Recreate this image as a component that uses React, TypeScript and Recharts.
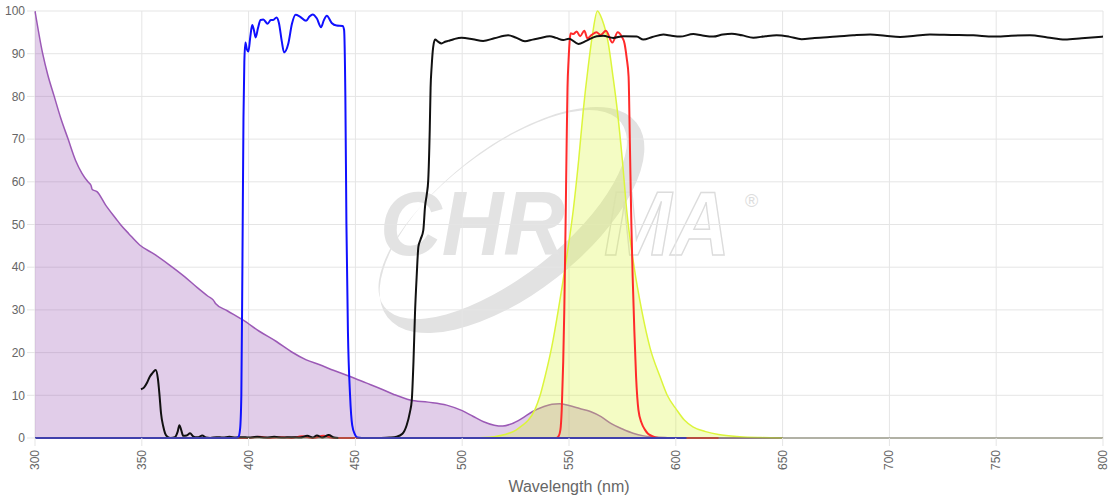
import { Area, CartesianGrid, ComposedChart, Line, XAxis, YAxis } from 'recharts';

// [wavelength nm, transmission %]
const absorption: [number, number][] = [
  [300, 100], [303.6, 90], [306, 85], [309, 80], [312, 75], [315.5, 70], [319, 65], [322, 62],
  [324.8, 60], [326.2, 59.2], [326.8, 58.2], [329, 57.7], [333, 54.6], [338, 51.3], [340, 50],
  [344, 47.8], [349, 45.2], [356, 43], [363, 40.5], [370, 37.8], [376, 35.2], [381, 33.2],
  [383.5, 32.3], [384.5, 31.5], [390, 29.8], [397.5, 27.6], [405, 25], [413, 22.6], [420, 20.2],
  [427, 18.3], [433, 17.2], [440, 15.8], [447.5, 14.4], [455, 12.9], [461.5, 11.6], [468, 10.2],
  [475.6, 8.9], [484, 8.4], [492.7, 7.7], [500, 6.4], [505, 5.1], [510, 3.8], [515, 3.0],
  [519, 2.8], [523, 3.3], [528, 4.6], [533, 6.2], [538, 7.3], [542, 7.9], [545.5, 8.0],
  [550, 7.6], [555, 6.9], [560, 6.2], [565, 5.0], [570, 3.3], [575, 2.1], [580, 1.1],
  [585, 0.5], [590, 0.25], [595, 0.1], [600, 0], [650, 0],
];

const emission: [number, number][] = [
  [500, 0], [510, 0.1], [515, 0.3], [520, 0.8], [525, 1.8], [528, 2.9], [531, 4.2], [534, 6.6],
  [536.5, 10], [538.8, 14.4], [542, 21.5], [545, 30], [548.5, 41], [552, 53.4], [554.5, 65],
  [556.7, 76.8], [559, 87], [561, 94.5], [563.3, 100], [565.5, 98], [568.4, 92.4], [570.5, 85],
  [572.6, 76.8], [575, 65], [577, 53.4], [580.5, 40], [584, 30], [588, 21], [592.6, 14.4],
  [596, 10], [600.4, 6.6], [604, 4.2], [608, 2.6], [614, 1.5], [620, 0.8], [630, 0.3],
  [640, 0.1], [650, 0],
];

const exciter: [number, number][] = [
  [300, 0], [394, 0], [395.2, 0.2], [396, 2], [396.6, 10], [397.1, 40], [397.6, 75], [398, 88],
  [398.5, 92.6], [399.2, 91], [399.9, 90.5], [400.8, 94], [401.7, 96.7], [402.5, 95.5],
  [403.3, 93.8], [404.4, 96], [405.6, 97.9], [406.9, 98], [408.9, 97], [410.4, 97.9],
  [411.5, 97.9], [413.1, 98.5], [414.2, 97.2], [415.5, 93], [416.6, 90.3], [418.6, 92.4],
  [420.3, 97], [422, 99.1], [424, 98.7], [426.9, 97.7], [428.5, 98.7], [430, 99.2],
  [431.9, 98.3], [433.9, 96.2], [435.2, 97.8], [436.6, 98.9], [438.9, 97.2], [441.2, 96.6],
  [444, 96.5], [444.7, 95.6], [445.3, 80], [445.8, 50], [446.5, 25], [447.5, 10], [448.5, 3],
  [449.8, 0.8], [451, 0.1], [453, 0], [605, 0],
];

const emitter: [number, number][] = [
  [380, 0], [400, 0], [405, 0.3], [410, 0], [415, 0.2], [420, 0], [425, 0.4], [430, 0],
  [435, 0.5], [440, 0], [445, 0], [544, 0], [545, 0.3], [546, 2], [546.6, 6.6], [547.3, 18],
  [547.8, 30], [548.4, 50], [548.9, 69], [549.3, 82], [549.8, 88.5], [550.4, 93.5],
  [550.8, 94.8], [552, 94.6], [553.6, 95.2], [555.2, 94.1], [557.2, 95.4], [558.6, 93.6],
  [560.6, 94.4], [562.9, 95], [564.8, 94.4], [567.3, 95.4], [570.3, 92.6], [572.8, 95],
  [574.7, 94], [576, 92.4], [577, 89], [577.9, 84.6], [578.5, 69], [579.2, 50], [579.8, 37.8],
  [580.6, 25], [581.4, 14.4], [582.5, 6.6], [584, 3.5], [585.6, 1.9], [587, 1.0], [588.7, 0.5],
  [592, 0], [620, 0],
];

const blocker: [number, number][] = [
  [349.6, 11.4], [351, 11.8], [352.5, 13], [353.8, 14.4], [355, 15.2], [356.5, 15.9],
  [357.5, 14], [358.3, 10], [359, 5.8], [360, 2.8], [360.9, 1.1], [362, 0.3], [363.5, 0],
  [365.5, 0.2], [366.8, 1.5], [367.6, 3.0], [368.5, 1.8], [369.4, 0.5], [371, 0.6],
  [372.6, 1.1], [374, 0.4], [375, 0.2], [376.5, 0.2], [378.3, 0.6], [380, 0.1], [382, 0],
  [385, 0.2], [388, 0.1], [391, 0.3], [394, 0.1], [397, 0.2], [400, 0.1], [404, 0.3],
  [408, 0.1], [412, 0.3], [416, 0.1], [420, 0.2], [424, 0.1], [427.5, 0.5], [430, 0.1],
  [432, 0.6], [434.5, 0.1], [437.5, 0.7], [440, 0.1], [442, 0],
];

const dichroic: [number, number][] = [
  [462, 0], [466, 0.1], [469.3, 0.3], [472, 1], [474, 3], [475.5, 6], [476.4, 8.9],
  [477.2, 18], [477.9, 29.2], [478.7, 38], [479.5, 44.8], [480.5, 46.5], [481.8, 48.7],
  [482.6, 54.2], [483.4, 57], [484.1, 60.4], [484.8, 72], [485.2, 82], [485.7, 87],
  [486.4, 91.5], [487.3, 93.3], [488.5, 92.9], [490.3, 92.4], [492, 92.8], [493.4, 93],
  [496, 93.4], [499.7, 93.75], [505, 93.4], [509.8, 93.0], [515, 93.6], [521.5, 94.3],
  [525, 93.8], [529.4, 92.9], [533, 93.3], [536, 93.6], [541, 94.1], [544, 93.7],
  [547.3, 93.2], [550, 93.5], [554.4, 92.3], [558, 93], [563, 94.1], [566, 94.2],
  [570.7, 93.7], [575.4, 94.1], [581.7, 94], [584.8, 93.3], [589, 93.9], [594.2, 94.5],
  [598, 94.2], [602, 94], [608.2, 94.6], [612, 94.3], [617.5, 94.0], [622, 94.5],
  [626.2, 94.7], [631, 94.3], [636.3, 93.75], [642, 94.1], [647.2, 94.3], [653, 94],
  [658.9, 93.4], [665, 93.7], [675.3, 94.0], [683, 94.3], [691, 94.5], [698, 94.2],
  [705, 93.9], [712, 94.2], [719, 94.5], [729, 94.4], [739.3, 94.3], [748.7, 94.0],
  [757, 94.2], [765.8, 94.3], [774, 93.8], [782.2, 93.3], [790, 93.6], [800, 94.0],
];

const xTicks = [300, 350, 400, 450, 500, 550, 600, 650, 700, 750, 800];
const yTicks = [0, 10, 20, 30, 40, 50, 60, 70, 80, 90, 100];

const toPoints = (pairs: [number, number][]) => pairs.map(([nm, t]) => ({ nm, t }));

const GRID = '#e5e5e5';
const LABEL = '#666';

function XTick({ x, y, payload }: any) {
  return (
    <g transform={`translate(${x},${y})`}>
      <text transform="rotate(-90)" textAnchor="end" dominantBaseline="central" fill={LABEL} fontSize={12}>
        {payload.value}
      </text>
    </g>
  );
}

// faint logo sitting behind the plot
function Watermark() {
  return (
    <svg width={1120} height={500} style={{ position: 'absolute', left: 0, top: 0 }}>
      <g transform="translate(512,220) rotate(-38)">
        <path
          fillRule="evenodd"
          fill="#e2e2e2"
          d="M -158 0 A 158 73 0 1 0 158 0 A 158 73 0 1 0 -158 0 Z M -154 -10 A 150 62 0 1 1 146 -10 A 150 62 0 1 1 -154 -10 Z"
        />
      </g>
      <text
        x={380}
        y={255}
        fontSize={90}
        fontStyle="italic"
        fontWeight="bold"
        fill="#e3e3e3"
        textLength={185}
        lengthAdjust="spacingAndGlyphs"
      >
        CHR
      </text>
      <text
        x={604}
        y={255}
        fontSize={90}
        fontStyle="italic"
        fontWeight="bold"
        fill="none"
        stroke="#dcdcdc"
        strokeWidth={1.5}
        textLength={126}
        lengthAdjust="spacingAndGlyphs"
      >
        MA
      </text>
      <text x={745} y={207} fontSize={18} fill="#dddddd">
        ®
      </text>
    </svg>
  );
}

export default function App() {
  return (
    <div
      style={{
        position: 'relative',
        width: 1120,
        height: 500,
        fontFamily: '"Liberation Sans", Arial, sans-serif',
      }}
    >
      <style>{'body { margin: 0; }'}</style>
      <Watermark />
      <div style={{ position: 'absolute', left: 0, top: 0 }}>
        <ComposedChart width={1120} height={500} margin={{ top: 11, right: 17, bottom: 0, left: 0 }}>
          <CartesianGrid stroke={GRID} />
          <XAxis
            dataKey="nm"
            type="number"
            domain={[300, 800]}
            ticks={xTicks}
            interval={0}
            height={62}
            tickSize={8}
            tickMargin={4}
            tickLine={{ stroke: GRID }}
            axisLine={{ stroke: '#707058' }}
            tick={<XTick />}
            label={{ value: 'Wavelength (nm)', position: 'insideBottom', offset: 8, fill: LABEL, fontSize: 16 }}
          />
          <YAxis
            type="number"
            domain={[0, 100]}
            ticks={yTicks}
            width={35}
            tickSize={8}
            tickMargin={2}
            tickLine={{ stroke: GRID }}
            axisLine={false}
            tick={{ fill: LABEL, fontSize: 12 }}
          />
          <Area
            data={toPoints(absorption)}
            dataKey="t"
            type="monotone"
            stroke="#9b59b6"
            strokeWidth={1.5}
            fill="#9b59b6"
            fillOpacity={0.3}
            dot={false}
            activeDot={false}
            isAnimationActive={false}
          />
          <Area
            data={toPoints(emission)}
            dataKey="t"
            type="monotone"
            stroke="#dcf53c"
            strokeWidth={1.5}
            fill="#dcf53c"
            fillOpacity={0.3}
            dot={false}
            activeDot={false}
            isAnimationActive={false}
          />
          <Line
            data={toPoints(emitter)}
            dataKey="t"
            type="monotone"
            stroke="#ff2a2a"
            strokeWidth={2}
            dot={false}
            activeDot={false}
            isAnimationActive={false}
          />
          <Line
            data={toPoints(blocker)}
            dataKey="t"
            type="monotone"
            stroke="#111"
            strokeWidth={2}
            dot={false}
            activeDot={false}
            isAnimationActive={false}
          />
          <Line
            data={toPoints(dichroic)}
            dataKey="t"
            type="monotone"
            stroke="#111"
            strokeWidth={2}
            dot={false}
            activeDot={false}
            isAnimationActive={false}
          />
          <Line
            data={toPoints(exciter)}
            dataKey="t"
            type="monotone"
            stroke="#1010ff"
            strokeWidth={2}
            dot={false}
            activeDot={false}
            isAnimationActive={false}
          />
        </ComposedChart>
      </div>
    </div>
  );
}
